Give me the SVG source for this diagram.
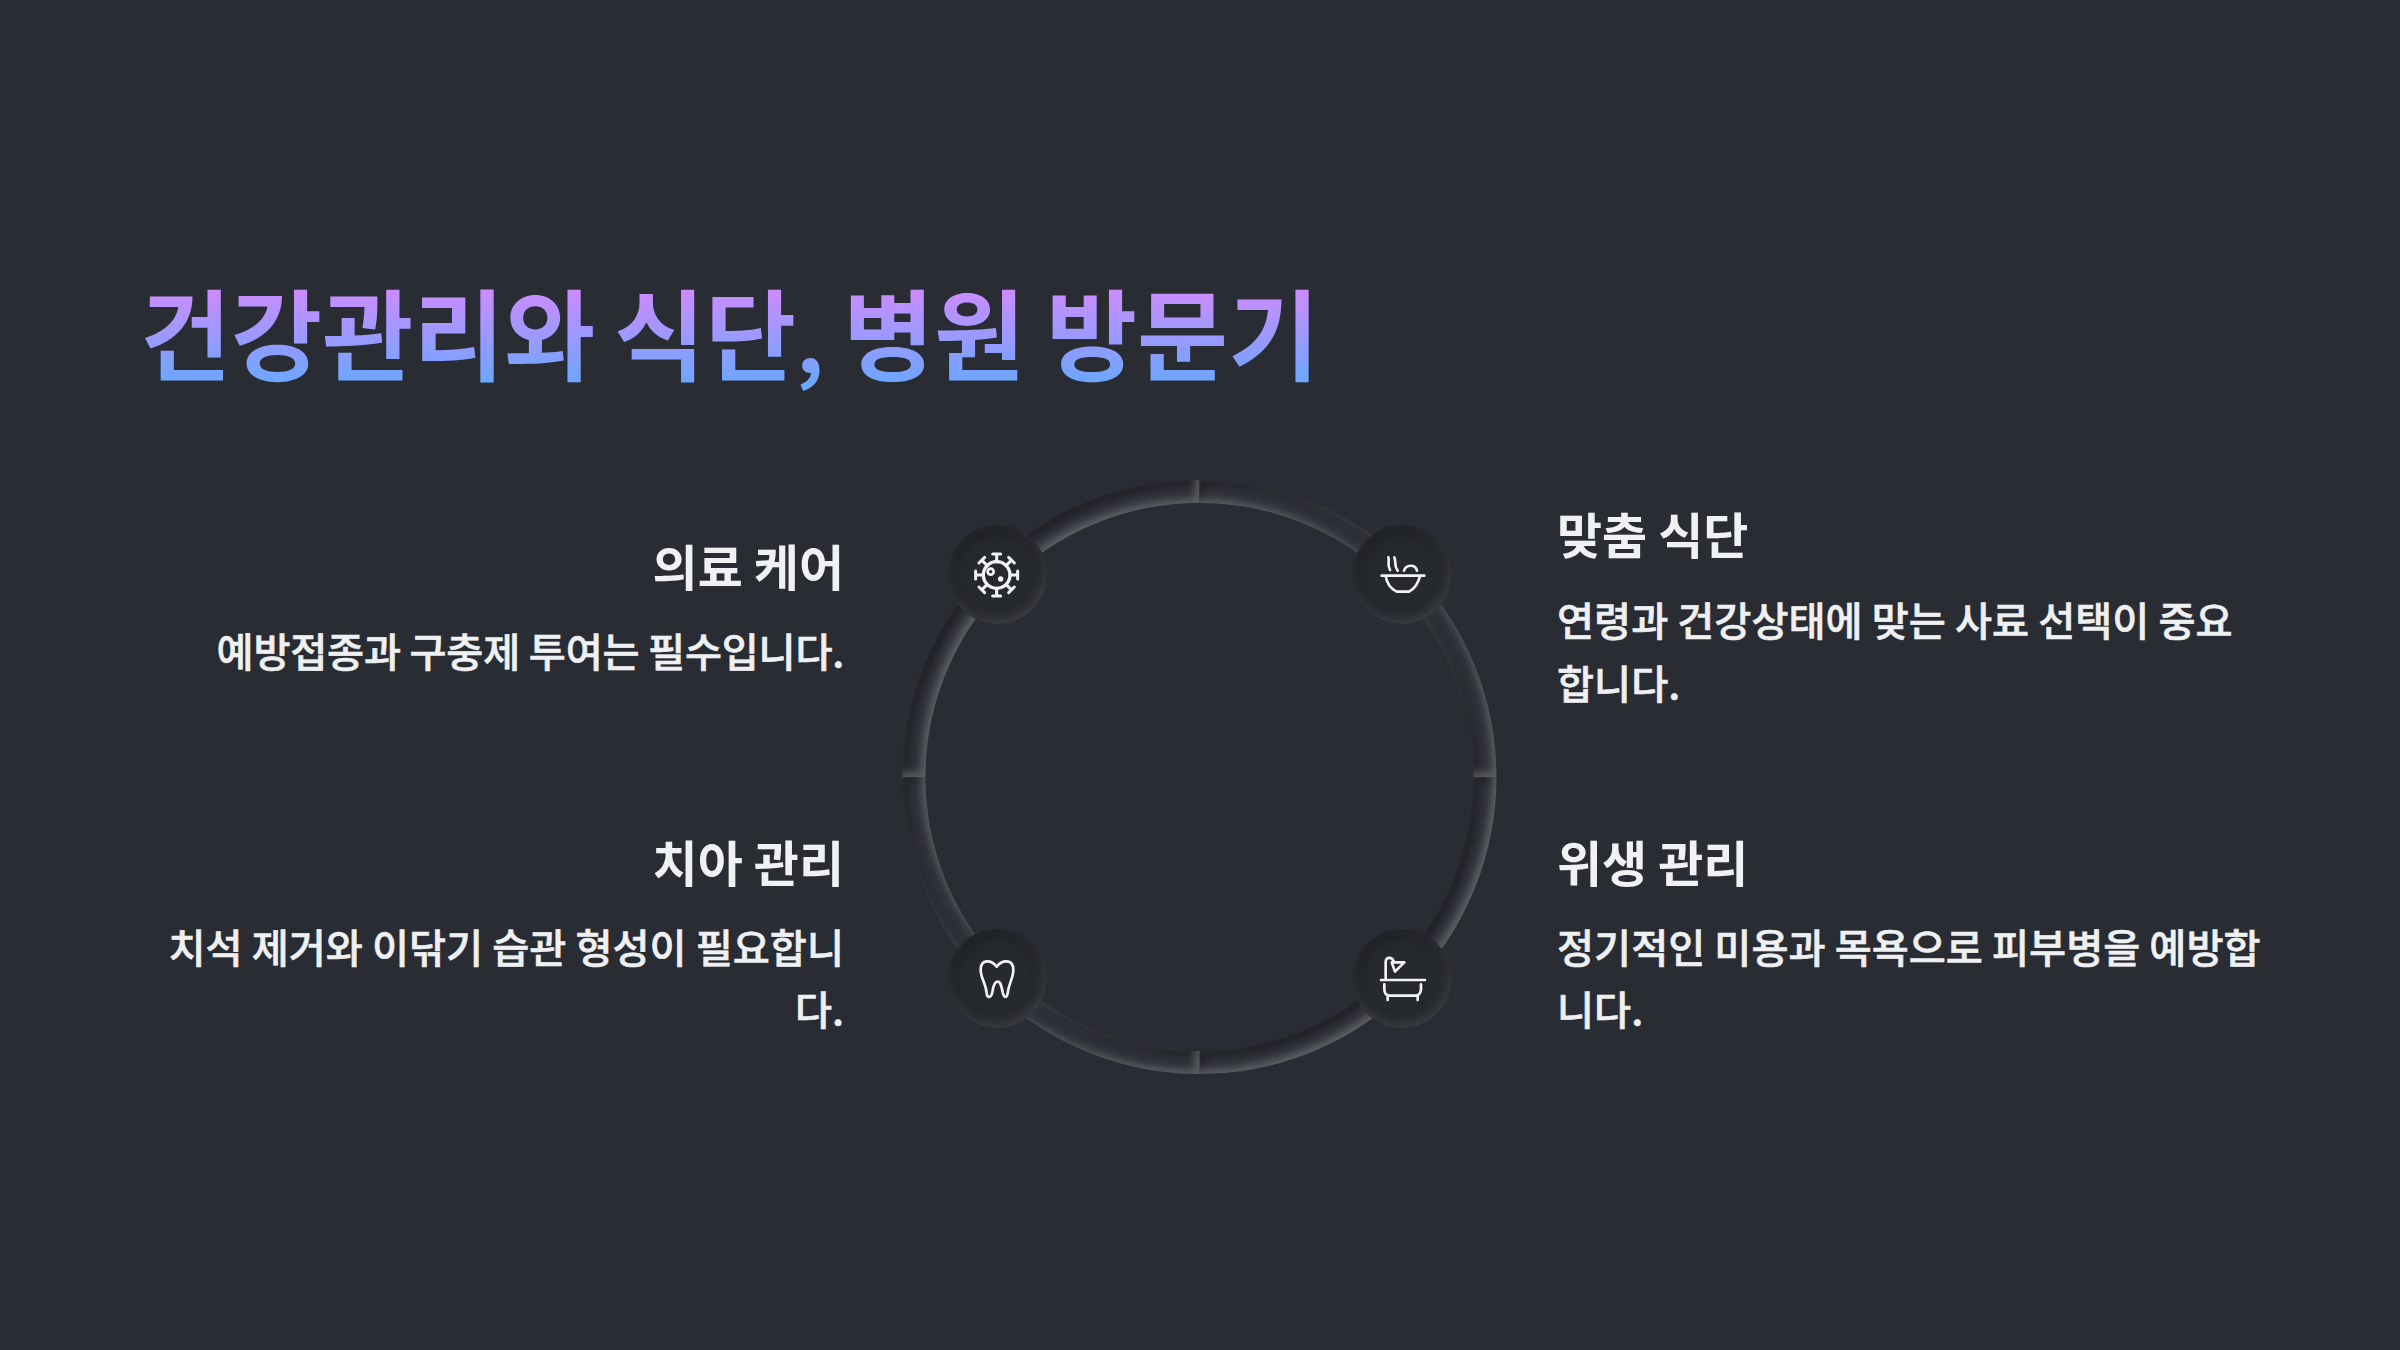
<svg xmlns="http://www.w3.org/2000/svg" width="2400" height="1350" viewBox="0 0 2400 1350">
<style>
text{font-family:"Noto Sans CJK KR","Noto Sans",sans-serif}
.t{font-size:99px;font-weight:700;fill:url(#tg)}
.h{font-size:49px;font-weight:700;fill:#f0f1f3}
.b{font-size:40.300px;font-weight:500;fill:#eef0f2;stroke:#eef0f2;stroke-width:.6px}
.e{text-anchor:end}
.ic{fill:none;stroke:#f2f3f5;stroke-width:8;stroke-linecap:round;stroke-linejoin:round}
.arc{fill:none;stroke:#2e3137;stroke-width:23;filter:url(#insetR)}
.disc{fill:#26292e;filter:url(#insetN)}
</style>
<defs>
<linearGradient id="tg" gradientUnits="userSpaceOnUse" x1="0" y1="290" x2="0" y2="388"><stop offset="0" stop-color="#cc8cff"/><stop offset="1" stop-color="#66a8ff"/></linearGradient>
<filter id="insetR" x="-20%" y="-20%" width="140%" height="140%" color-interpolation-filters="sRGB">
<feComponentTransfer in="SourceAlpha" result="inv"><feFuncA type="table" tableValues="1 0"/></feComponentTransfer>
<feOffset in="inv" dx="4" dy="4"/><feGaussianBlur stdDeviation="4.500" result="b1"/>
<feFlood flood-color="#14161a" flood-opacity=".7"/><feComposite in2="b1" operator="in"/><feComposite in2="SourceAlpha" operator="in" result="dark"/>
<feOffset in="inv" dx="-4" dy="-4"/><feGaussianBlur stdDeviation="4.500" result="b2"/>
<feFlood flood-color="#7a7c80" flood-opacity=".65"/><feComposite in2="b2" operator="in"/><feComposite in2="SourceAlpha" operator="in" result="light"/>
<feMerge><feMergeNode in="SourceGraphic"/><feMergeNode in="dark"/><feMergeNode in="light"/></feMerge>
</filter>
<filter id="insetN" x="-30%" y="-30%" width="160%" height="160%" color-interpolation-filters="sRGB">
<feComponentTransfer in="SourceAlpha" result="inv"><feFuncA type="table" tableValues="1 0"/></feComponentTransfer>
<feOffset in="inv" dx="2" dy="4"/><feGaussianBlur stdDeviation="8" result="b1"/>
<feFlood flood-color="#14161a" flood-opacity=".75"/><feComposite in2="b1" operator="in"/><feComposite in2="SourceAlpha" operator="in" result="dark"/>
<feOffset in="inv" dx="-2" dy="-4"/><feGaussianBlur stdDeviation="6" result="b2"/>
<feFlood flood-color="#5a5c60" flood-opacity=".5"/><feComposite in2="b2" operator="in"/><feComposite in2="SourceAlpha" operator="in" result="light"/>
<feMerge><feMergeNode in="SourceGraphic"/><feMergeNode in="dark"/><feMergeNode in="light"/></feMerge>
</filter>
<g id="spike"><path d="M200 155V132M188 132H212"/></g>
</defs>
<rect width="2400" height="1350" fill="#292c33"/>
<g id="title"><text class="t" y="373"><tspan x="140">건강관리와</tspan><tspan x="614">식단</tspan><tspan x="796" font-size="86">,</tspan><tspan x="843">병원</tspan><tspan x="1046">방문기</tspan></text></g>
<g id="connectors">
<path class="arc" d="M914 777A285.500 285.500 0 0 1 1199.500 491.500"/>
<path class="arc" d="M1199.500 491.500A285.500 285.500 0 0 1 1485 777"/>
<path class="arc" d="M1485 777A285.500 285.500 0 0 1 1199.500 1062.500"/>
<path class="arc" d="M1199.500 1062.500A285.500 285.500 0 0 1 914 777"/>
</g>
<g id="node-medical">
<circle class="disc" cx="997.500" cy="574.500" r="49.500"/>
<g class="ic" transform="translate(930 510) scale(.3333)">
<circle cx="200" cy="195" r="40" stroke-width="10"/><circle cx="182" cy="185" r="9"/><circle cx="212" cy="207" r="4" fill="#f2f3f5"/>
<g stroke-width="9"><use href="#spike" transform="rotate(0 200 195)"/><use href="#spike" transform="rotate(45 200 195)"/><use href="#spike" transform="rotate(90 200 195)"/><use href="#spike" transform="rotate(135 200 195)"/><use href="#spike" transform="rotate(180 200 195)"/><use href="#spike" transform="rotate(225 200 195)"/><use href="#spike" transform="rotate(270 200 195)"/><use href="#spike" transform="rotate(315 200 195)"/></g>
</g>
<text class="h e" x="844" y="586">의료 케어</text>
<text class="b e" x="844" y="667" letter-spacing="-.25">예방접종과 구충제 투여는 필수입니다.</text>
</g>
<g id="node-diet">
<circle class="disc" cx="1402" cy="574.500" r="49.500"/>
<g class="ic" transform="translate(1335 510) scale(.3333)">
<path d="M140 197H268M152 197C155 220 165 235 185 245H222C240 235 250 220 255 197M160 142C165 155 155 160 165 180M178 142C185 155 175 165 188 182M207 182C212 165 240 160 246 182"/>
</g>
<text class="h" x="1557" y="554">맞춤 식단</text>
<text class="b" x="1557" y="636">연령과 건강상태에 맞는 사료 선택이 중요</text>
<text class="b" x="1557" y="699">합니다.</text>
</g>
<g id="node-dental">
<circle class="disc" cx="997.500" cy="978.500" r="49.500"/>
<g class="ic" transform="translate(930 915) scale(.3333)">
<path d="M200 155C185 135 152 130 152 165C152 190 168 205 170 235C172 250 183 250 187 232C190 210 195 200 203 200C212 200 215 215 218 232C222 250 230 250 233 235C236 205 250 190 250 165C250 130 215 135 200 155Z"/>
</g>
<text class="h e" x="844" y="882">치아 관리</text>
<text class="b e" x="844" y="963">치석 제거와 이닦기 습관 형성이 필요합니</text>
<text class="b e" x="844" y="1025">다.</text>
</g>
<g id="node-hygiene">
<circle class="disc" cx="1402" cy="978.500" r="49.500"/>
<g class="ic" transform="translate(1335 915) scale(.3333)">
<path d="M138 195H270M152 195V142C152 125 170 125 176 138M170 142H208L180 170ZM148 208V222C148 235 155 242 165 242H240C250 242 258 235 258 222V208M158 242V255M248 242V255"/>
</g>
<text class="h" x="1557" y="882">위생 관리</text>
<text class="b" x="1557" y="963">정기적인 미용과 목욕으로 피부병을 예방합</text>
<text class="b" x="1557" y="1025">니다.</text>
</g>
</svg>
